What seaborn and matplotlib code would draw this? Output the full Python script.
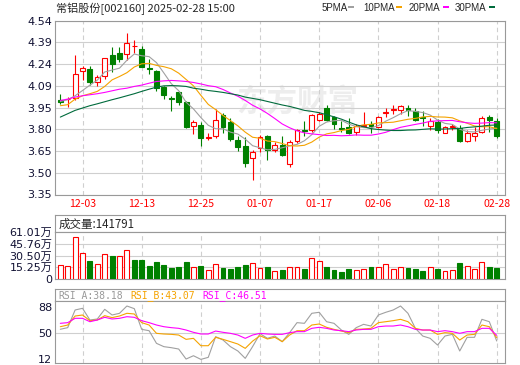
import numpy as np
import pandas as pd
import seaborn as sns
import matplotlib
matplotlib.use("Agg")
import matplotlib.pyplot as plt
from matplotlib.patches import Rectangle

# ---- data (常铝股份 002160, daily) ----
dates = ["11-28", "11-29", "12-02", "12-03", "12-04", "12-05", "12-06", "12-09", "12-10", "12-11",
         "12-12", "12-13", "12-16", "12-17", "12-18", "12-19", "12-20", "12-23", "12-24", "12-25",
         "12-26", "12-27", "12-30", "12-31", "01-02", "01-03", "01-06", "01-07", "01-08", "01-09",
         "01-10", "01-13", "01-14", "01-15", "01-16", "01-17", "01-20", "01-21", "01-22", "01-23",
         "01-24", "01-27", "02-05", "02-06", "02-07", "02-10", "02-11", "02-12", "02-13", "02-14",
         "02-17", "02-18", "02-19", "02-20", "02-21", "02-24", "02-25", "02-26", "02-27", "02-28"]
tick_dates = ["12-03", "12-13", "12-25", "01-07", "01-17", "02-06", "02-18", "02-28"]

opens = [4.000, 4.001, 4.010, 4.194, 4.208, 4.119, 4.158, 4.306, 4.322, 4.310,
         4.366, 4.345, 4.215, 4.199, 4.083, 4.008, 4.053, 3.985, 3.819, 3.826,
         3.737, 3.753, 3.896, 3.844, 3.726, 3.685, 3.600, 3.669, 3.748, 3.657,
         3.691, 3.559, 3.714, 3.795, 3.789, 3.862, 3.942, 3.878, 3.805, 3.814,
         3.778, 3.817, 3.833, 3.812, 3.910, 3.930, 3.926, 3.939, 3.924, 3.880,
         3.817, 3.844, 3.771, 3.812, 3.805, 3.714, 3.748, 3.776, 3.880, 3.855]
highs = [4.040, 4.021, 4.306, 4.231, 4.231, 4.169, 4.288, 4.358, 4.363, 4.454,
         4.408, 4.367, 4.276, 4.203, 4.094, 4.026, 4.060, 3.989, 3.862, 3.846,
         3.771, 3.935, 3.908, 3.871, 3.753, 3.744, 3.657, 3.760, 3.760, 3.707,
         3.753, 3.726, 3.798, 3.851, 3.903, 3.914, 3.962, 3.885, 3.851, 3.874,
         3.833, 3.914, 3.855, 3.885, 3.942, 3.965, 3.965, 3.965, 3.942, 3.919,
         3.874, 3.867, 3.821, 3.835, 3.828, 3.794, 3.812, 3.885, 3.896, 3.874]
lows = [3.971, 3.948, 3.999, 4.135, 4.099, 4.090, 4.140, 4.192, 4.254, 4.272,
        4.317, 4.220, 4.176, 4.056, 4.005, 3.923, 3.962, 3.805, 3.767, 3.685,
        3.726, 3.737, 3.771, 3.714, 3.646, 3.537, 3.448, 3.639, 3.589, 3.639,
        3.614, 3.537, 3.703, 3.748, 3.776, 3.851, 3.851, 3.798, 3.776, 3.764,
        3.760, 3.812, 3.771, 3.805, 3.880, 3.903, 3.903, 3.885, 3.851, 3.821,
        3.789, 3.771, 3.771, 3.789, 3.707, 3.707, 3.714, 3.771, 3.776, 3.735]
closes = [3.983, 4.005, 4.176, 4.215, 4.117, 4.153, 4.283, 4.242, 4.281, 4.386,
          4.370, 4.222, 4.210, 4.076, 4.031, 4.005, 3.985, 3.812, 3.846, 3.735,
          3.744, 3.862, 3.812, 3.730, 3.673, 3.566, 3.641, 3.742, 3.657, 3.689,
          3.619, 3.710, 3.789, 3.785, 3.896, 3.903, 3.858, 3.833, 3.798, 3.769,
          3.817, 3.823, 3.821, 3.880, 3.917, 3.937, 3.958, 3.926, 3.858, 3.876,
          3.851, 3.789, 3.812, 3.821, 3.714, 3.771, 3.771, 3.874, 3.858, 3.748]

# volume in 万股
volumes = [18.3, 17.0, 54.9, 34.0, 23.5, 19.6, 32.7, 30.1, 29.6, 37.9,
           24.8, 24.8, 17.0, 22.2, 18.3, 13.9, 15.3, 22.2, 15.3, 17.0,
           11.8, 19.2, 13.9, 13.1, 15.3, 18.3, 20.5, 13.9, 15.3, 10.0,
           11.8, 15.3, 15.3, 13.1, 27.0, 23.5, 15.3, 11.8, 9.2, 13.1,
           11.8, 13.1, 15.3, 15.3, 19.2, 13.1, 15.3, 13.9, 12.6, 10.5,
           15.3, 13.1, 10.5, 11.8, 20.9, 17.0, 12.6, 21.8, 15.7, 14.1791]
vol_up = [1, 1, 1, 1, 0, 1, 1, 0, 1, 1,
          0, 0, 0, 0, 0, 0, 0, 0, 1, 0,
          1, 1, 0, 0, 0, 0, 1, 1, 0, 1,
          0, 1, 1, 0, 1, 1, 0, 0, 0, 0,
          1, 1, 0, 1, 1, 1, 1, 0, 0, 0,
          1, 0, 1, 1, 0, 1, 1, 1, 0, 0]

ma5 = [3.987, 3.999, 4.026, 4.062, 4.099, 4.133, 4.189, 4.202, 4.215, 4.269,
       4.312, 4.300, 4.294, 4.253, 4.182, 4.109, 4.061, 3.982, 3.936, 3.877,
       3.824, 3.800, 3.800, 3.777, 3.764, 3.729, 3.684, 3.670, 3.656, 3.659,
       3.670, 3.683, 3.693, 3.718, 3.760, 3.817, 3.846, 3.855, 3.858, 3.832,
       3.815, 3.808, 3.806, 3.822, 3.852, 3.876, 3.903, 3.924, 3.919, 3.911,
       3.894, 3.860, 3.837, 3.830, 3.797, 3.781, 3.778, 3.790, 3.798, 3.804]
ma10 = [3.958, 3.965, 4.003, 4.026, 4.040, 4.056, 4.090, 4.135, 4.158, 4.184,
        4.223, 4.245, 4.248, 4.234, 4.225, 4.211, 4.181, 4.138, 4.094, 4.029,
        3.967, 3.931, 3.891, 3.856, 3.820, 3.777, 3.742, 3.735, 3.716, 3.712,
        3.699, 3.684, 3.682, 3.687, 3.709, 3.743, 3.765, 3.774, 3.788, 3.796,
        3.816, 3.827, 3.830, 3.840, 3.842, 3.845, 3.855, 3.865, 3.871, 3.881,
        3.885, 3.881, 3.880, 3.875, 3.854, 3.838, 3.819, 3.814, 3.814, 3.801]
ma20 = [3.994, 4.003, 4.017, 4.026, 4.033, 4.040, 4.049, 4.060, 4.071, 4.078,
        4.090, 4.099, 4.112, 4.124, 4.128, 4.131, 4.128, 4.124, 4.117, 4.107,
        4.095, 4.088, 4.069, 4.045, 4.023, 3.994, 3.961, 3.936, 3.905, 3.870,
        3.833, 3.807, 3.786, 3.772, 3.765, 3.760, 3.754, 3.755, 3.752, 3.754,
        3.758, 3.756, 3.756, 3.764, 3.776, 3.794, 3.810, 3.820, 3.830, 3.839,
        3.851, 3.854, 3.856, 3.857, 3.848, 3.841, 3.837, 3.839, 3.842, 3.841]
ma30 = [3.880, 3.903, 3.926, 3.942, 3.958, 3.971, 3.985, 3.999, 4.012, 4.026,
        4.040, 4.056, 4.071, 4.085, 4.094, 4.096, 4.094, 4.090, 4.078, 4.071,
        4.062, 4.056, 4.049, 4.040, 4.031, 4.017, 4.008, 3.999, 3.987, 3.975,
        3.963, 3.953, 3.940, 3.926, 3.919, 3.910, 3.896, 3.882, 3.866, 3.846,
        3.827, 3.814, 3.801, 3.795, 3.791, 3.788, 3.788, 3.791, 3.792, 3.796,
        3.800, 3.798, 3.798, 3.801, 3.802, 3.809, 3.813, 3.818, 3.824, 3.826]

rsi_a = [55.5, 57.9, 84.0, 86.5, 69.2, 70.7, 85.0, 76.6, 79.1, 89.9,
         86.0, 55.4, 53.4, 34.7, 29.8, 28.3, 26.3, 11.5, 16.4, 11.0,
         14.0, 44.6, 39.6, 29.8, 23.4, 12.5, 30.0, 49.0, 42.1, 45.5,
         37.2, 50.5, 65.3, 64.3, 79.1, 80.6, 66.7, 64.3, 54.4, 48.0,
         57.9, 62.8, 60.3, 76.6, 80.6, 84.0, 89.9, 79.1, 56.9, 45.5,
         42.1, 32.2, 45.5, 48.0, 23.4, 43.6, 43.6, 70.2, 66.7, 38.18]
rsi_b = [59.3, 61.8, 75.1, 76.6, 68.2, 69.2, 75.6, 72.7, 75.1, 79.1,
         78.1, 65.3, 61.8, 49.5, 48.5, 48.0, 47.0, 40.6, 42.1, 31.2,
         31.2, 43.6, 40.6, 37.2, 33.7, 27.3, 38.0, 46.0, 41.1, 43.6,
         37.2, 47.0, 53.4, 53.4, 61.8, 63.3, 58.4, 55.4, 52.9, 50.5,
         55.4, 55.9, 56.9, 65.3, 66.7, 68.2, 70.2, 66.7, 56.9, 54.4,
         54.4, 48.0, 50.5, 49.5, 39.6, 47.0, 48.0, 61.8, 59.3, 43.07]
rsi_c = [64.3, 65.3, 71.7, 71.7, 66.7, 69.2, 73.2, 70.7, 71.7, 74.1,
         73.2, 68.2, 65.3, 61.8, 59.3, 57.9, 56.9, 54.4, 51.0, 48.5,
         48.5, 52.9, 51.0, 49.5, 47.0, 42.1, 47.0, 49.5, 48.5, 48.0,
         48.0, 50.5, 52.0, 52.0, 56.9, 58.4, 56.9, 54.4, 53.4, 52.0,
         54.4, 55.4, 55.4, 59.3, 60.3, 60.3, 61.8, 59.3, 55.4, 54.4,
         54.4, 52.0, 53.4, 52.0, 49.5, 52.0, 52.0, 56.9, 56.9, 46.51]

price_ticks = ["3.35", "3.50", "3.65", "3.80", "3.95", "4.09", "4.24", "4.39", "4.54"]
vol_ticks = ["0", "15.25万", "30.50万", "45.76万", "61.01万"]
rsi_ticks = ["12", "50", "88"]

# ---- style ----
sns.set_style("white")
plt.rcParams["font.family"] = ["DejaVu Sans", "Noto Sans CJK SC"]
plt.rcParams["axes.linewidth"] = 0.8

RED = "#FF0000"
GREEN = "#008000"
FRAME = "#999999"
GRID = "#CFCFCF"
MA_COLORS = ["#A0A0A0", "#F5A300", "#FF00FF", "#006B3C"]

df = pd.DataFrame({"date": dates, "open": opens, "high": highs, "low": lows,
                   "close": closes, "vol": volumes, "vol_up": vol_up,
                   "ma5": ma5, "ma10": ma10, "ma20": ma20, "ma30": ma30,
                   "rsi_a": rsi_a, "rsi_b": rsi_b, "rsi_c": rsi_c})
df["i"] = np.arange(len(df))
df["up"] = df["close"] >= df["open"]

W, H = 520, 365
fig = plt.figure(figsize=(W / 100, H / 100), dpi=100)


def px_axes(x0, y0, x1, y1):
    # axes placed by pixel box (top-left origin)
    return fig.add_axes([x0 / W, 1 - y1 / H, (x1 - x0) / W, (y1 - y0) / H])


ax_p = px_axes(55, 20.7, 505, 194.5)
ax_vh = px_axes(55, 215, 505, 232.3)
ax_v = px_axes(55, 232.3, 505, 279)
ax_rh = px_axes(55, 289, 505, 301)
ax_r = px_axes(55, 301, 505, 363.3)

tick_idx = [dates.index(d) for d in tick_dates]
xlim = (-0.72, len(df) - 1 + 1.12)

for ax in [ax_p, ax_vh, ax_v, ax_rh, ax_r]:
    for s in ax.spines.values():
        s.set_color(FRAME)
        s.set_linewidth(0.8)
    ax.set_xlim(*xlim)
    ax.tick_params(length=0, labelsize=8, pad=2)

for ax in [ax_vh, ax_rh]:
    ax.set_xticks([])
    ax.set_yticks([])

for ax in [ax_p, ax_v, ax_r]:
    ax.set_xticks(tick_idx)
    ax.xaxis.grid(True, color=GRID, linestyle=(0, (4, 3)), linewidth=0.8)
    ax.set_axisbelow(True)

# ---- price panel ----
lo, hi = 3.35, 4.54
ax_p.set_ylim(lo, hi)
ax_p.set_yticks(np.linspace(lo, hi, len(price_ticks)))
ax_p.set_yticklabels(price_ticks, color="#111133")
ax_p.yaxis.grid(True, color=GRID, linewidth=0.8)
ax_p.set_xticklabels(tick_dates, color=RED, fontsize=7.6, family="Noto Sans CJK SC")
ax_p.tick_params(axis="x", pad=3)

# watermark
ax_p.text(32, 3.985, "东方财富", fontsize=22, fontweight="bold", color="#EDEDED",
          family="Noto Sans CJK SC", ha="center", va="center", zorder=0)

colors = np.where(df["up"], RED, GREEN)
ax_p.vlines(df["i"], df["low"], df["high"], colors=colors, linewidth=0.8, zorder=2)
body_h = np.maximum((df["close"] - df["open"]).abs(), 0.002)
ax_p.bar(df["i"], body_h, bottom=np.minimum(df["open"], df["close"]), width=0.66,
         color=np.where(df["up"], "white", GREEN), edgecolor=colors, linewidth=0.8, zorder=3)

for col, c in zip(["ma5", "ma10", "ma20", "ma30"], MA_COLORS):
    sns.lineplot(data=df, x="i", y=col, ax=ax_p, color=c, linewidth=0.8, zorder=4, legend=False)
ax_p.set_xlabel("")
ax_p.set_ylabel("")

# header above price panel
fig.text(56 / W, 1 - 8.5 / H, "常铝股份[002160] 2025-02-28 15:00", fontsize=8,
         family=["Noto Sans CJK SC", "DejaVu Sans"], va="center", ha="left")
leg_items = [("5PMA", 322, 348), ("10PMA", 363, 396), ("20PMA", 409, 443), ("30PMA", 455, 489)]
for (lab, tx, rx), c in zip(leg_items, MA_COLORS):
    fig.text(tx / W, 1 - 8 / H, lab, fontsize=7, family="Liberation Sans",
             va="center", ha="left")
    fig.patches.append(Rectangle((rx / W, 1 - 8.3 / H), 6 / W, 2.6 / H, transform=fig.transFigure,
                                 facecolor=c, edgecolor="none"))

# ---- volume panel ----
vmax = 61.01
ax_v.set_ylim(0, vmax)
ax_v.set_yticks(np.linspace(0, vmax, len(vol_ticks)))
ax_v.set_yticklabels(vol_ticks, color="#111133")
ax_v.yaxis.grid(True, color=GRID, linewidth=0.8)
ax_v.set_xticklabels([])
vcolors = np.where(df["vol_up"] == 1, RED, GREEN)
ax_v.bar(df["i"], df["vol"], width=0.66, color=np.where(df["vol_up"] == 1, "white", GREEN),
         edgecolor=vcolors, linewidth=0.8, zorder=3)
ax_vh.text(0.007, 0.45, f"成交量:{round(volumes[-1] * 10000)}", transform=ax_vh.transAxes,
           fontsize=8.3, family=["Noto Sans CJK SC", "DejaVu Sans"], va="center", ha="left")

# ---- RSI panel ----
ax_r.set_ylim(5.2, 97.3)
ax_r.set_yticks([float(t) for t in rsi_ticks])
ax_r.set_yticklabels(rsi_ticks, color="#111133")
ax_r.axhline(50, color=GRID, linewidth=0.8, zorder=1)
ax_r.set_xticklabels([])
for col, c in zip(["rsi_a", "rsi_b", "rsi_c"], ["#A0A0A0", "#F5A300", "#FF00FF"]):
    sns.lineplot(data=df, x="i", y=col, ax=ax_r, color=c, linewidth=0.8, zorder=3, legend=False)
ax_r.set_xlabel("")
ax_r.set_ylabel("")

rsi_hdr = [(f"RSI_A:{rsi_a[-1]:.2f}", 58, "#999999"),
           (f"RSI_B:{rsi_b[-1]:.2f}", 130, "#F5A300"),
           (f"RSI_C:{rsi_c[-1]:.2f}", 202, "#FF00FF")]
for txt, x, c in rsi_hdr:
    fig.text(x / W, 1 - 295.5 / H, txt, fontsize=7, family="DejaVu Sans Mono", color=c,
             va="center", ha="left")

fig.savefig("out.png", dpi=100)
